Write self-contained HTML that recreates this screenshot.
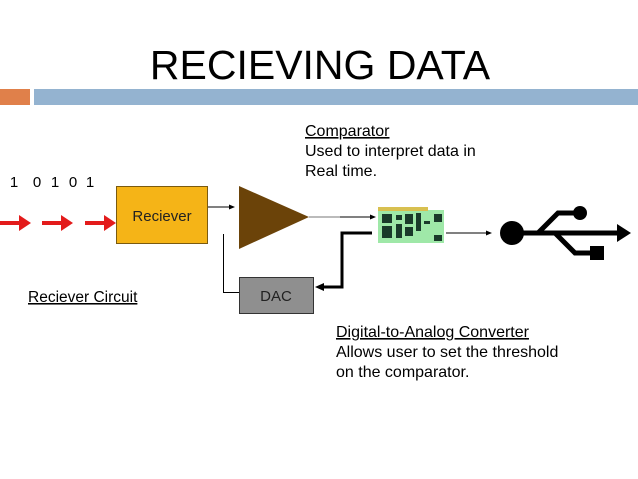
<!DOCTYPE html>
<html><head><meta charset="utf-8"><style>
html,body{margin:0;padding:0;background:#fff;}
svg{display:block;}
text{font-family:"Liberation Sans",sans-serif;}
</style></head><body>
<svg width="638" height="479" viewBox="0 0 638 479" xmlns="http://www.w3.org/2000/svg">
<defs>
<marker id="a" markerWidth="6" markerHeight="6" refX="5" refY="3" orient="auto" markerUnits="userSpaceOnUse"><path d="M0,0.5 L6,3 L0,5.5z" fill="#000"/></marker>
</defs>
<text x="320" y="79" font-size="41" text-anchor="middle" fill="#000">RECIEVING DATA</text>
<rect x="0" y="89" width="30" height="16" fill="#e0804a"/>
<rect x="34" y="89" width="604" height="16" fill="#94b3d0"/>
<g font-size="15" fill="#000" text-anchor="middle">
<text x="14" y="187">1</text><text x="37" y="187">0</text><text x="55" y="187">1</text><text x="73" y="187">0</text><text x="90" y="187">1</text>
</g>
<g fill="#e31b1b">
<rect x="0" y="221" width="20" height="4"/><path d="M19,215 L31,223 L19,231z"/>
<rect x="42" y="221" width="20" height="4"/><path d="M61,215 L73,223 L61,231z"/>
<rect x="85" y="221" width="20" height="4"/><path d="M104,215 L116,223 L104,231z"/>
</g>
<rect x="116.5" y="186.5" width="91" height="57" fill="#f5b417" stroke="#7a5a10"/>
<text x="162" y="221" font-size="15" text-anchor="middle" fill="#222">Reciever</text>
<line x1="208" y1="207" x2="234" y2="207" stroke="#000" stroke-width="1" marker-end="url(#a)"/>
<path d="M239,186 L309,217 L239,249z" fill="#6b4309"/>
<line x1="309" y1="217" x2="375" y2="217" stroke="#777" stroke-width="1"/>
<line x1="340" y1="217" x2="375" y2="217" stroke="#000" stroke-width="1" marker-end="url(#a)"/>
<polyline points="223.5,234 223.5,292.5 239,292.5" fill="none" stroke="#000" stroke-width="1"/>
<rect x="239.5" y="277.5" width="74" height="36" fill="#8f8f8f" stroke="#333"/>
<text x="276" y="301" font-size="15" text-anchor="middle" fill="#222">DAC</text>
<polyline points="372,233 342,233 342,287 324,287" fill="none" stroke="#000" stroke-width="3"/>
<path d="M324,283 L315,287 L324,291z" fill="#000"/>
<rect x="378" y="210" width="66" height="33" fill="#9fe8a8"/>
<rect x="378" y="207" width="50" height="4" fill="#d8c050"/>
<g fill="#1a3a2a">
<rect x="382" y="214" width="10" height="9"/><rect x="382" y="226" width="10" height="12"/>
<rect x="396" y="215" width="6" height="5"/><rect x="396" y="224" width="6" height="14"/>
<rect x="405" y="214" width="8" height="10"/><rect x="405" y="227" width="8" height="9"/>
<rect x="416" y="213" width="5" height="18"/><rect x="424" y="221" width="6" height="3"/>
<rect x="434" y="214" width="8" height="8"/><rect x="434" y="235" width="8" height="6"/>
</g>
<line x1="446" y1="233" x2="491" y2="233" stroke="#000" stroke-width="1" marker-end="url(#a)"/>
<g fill="#000" stroke="#000">
<circle cx="512" cy="233" r="12" stroke="none"/>
<line x1="512" y1="233" x2="618" y2="233" stroke-width="5"/>
<path d="M617,224 L631,233 L617,242z" stroke="none"/>
<path d="M538,233 L558,213 L578,213" fill="none" stroke-width="5"/>
<circle cx="580" cy="213" r="7" stroke="none"/>
<path d="M555,233 L575,253 L590,253" fill="none" stroke-width="5"/>
<rect x="590" y="246" width="14" height="14" stroke="none"/>
</g>
<text x="305" y="136" font-size="16" fill="#000" text-decoration="underline">Comparator</text>
<text x="305" y="156" font-size="16" fill="#000">Used to interpret data in</text>
<text x="305" y="176" font-size="16" fill="#000">Real time.</text>
<text x="28" y="302" font-size="15.5" fill="#000" text-decoration="underline">Reciever Circuit </text>
<text x="336" y="337" font-size="16" fill="#000" text-decoration="underline">Digital-to-Analog Converter</text>
<text x="336" y="357" font-size="16" fill="#000">Allows user to set the threshold</text>
<text x="336" y="377" font-size="16" fill="#000">on the comparator.</text>
</svg>
</body></html>
